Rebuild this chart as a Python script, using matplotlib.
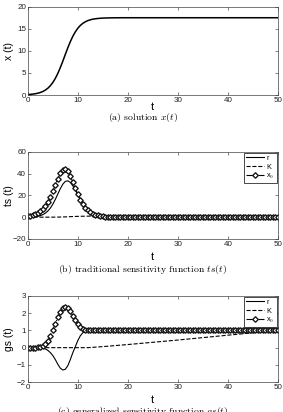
import numpy as np
import matplotlib
matplotlib.use("Agg")
import matplotlib.pyplot as plt

plt.rcParams['font.family'] = ['Liberation Sans', 'DejaVu Sans']
plt.rcParams['mathtext.fontset'] = 'cm'

# time grid for all sampled series (step 0.5, 0..50)
t = np.arange(0, 50.5, 0.5)

# (a) solution x(t), values 0..20 then plateau
x_sol = [0.10, 0.14, 0.20, 0.28, 0.40, 0.56, 0.78, 1.09, 1.51, 2.07,
         2.80, 3.72, 4.85, 6.17, 7.62, 9.15, 10.65, 12.04, 13.26, 14.28,
         15.10, 15.74, 16.22, 16.58, 16.84, 17.03, 17.17, 17.26, 17.33, 17.38,
         17.42, 17.44, 17.46, 17.47, 17.48, 17.49, 17.49, 17.50, 17.50, 17.50,
         17.50] + [17.5]*60

# (b) traditional sensitivities
ts_r = [0, 0.07, 0.20, 0.42, 0.78, 1.36, 2.25, 3.59, 5.52, 8.21,
        11.75, 16.11, 21.03, 25.96, 30.12, 32.74, 33.35, 31.93, 28.92, 24.96,
        20.70, 16.63, 13.04, 10.03, 7.62, 5.72, 4.22, 3.19, 2.35, 1.70,
        1.20, 0.88, 0.64, 0.45, 0.32, 0.23, 0.16, 0.11, 0.08, 0.06,
        0.04] + [0.0]*60
ts_K = [0, 0, 0, 0, 0, 0, 0.002, 0.004, 0.007, 0.013,
        0.025, 0.044, 0.076, 0.123, 0.188, 0.272, 0.369, 0.472, 0.573, 0.665,
        0.744, 0.808, 0.859, 0.897, 0.926, 0.947, 0.962, 0.973, 0.981, 0.987,
        0.991, 0.994, 0.996, 0.997, 0.998, 0.999, 0.999, 1, 1, 1,
        1] + [1.0]*60
ts_x0 = [1.00, 1.41, 1.99, 2.80, 3.92, 5.46, 7.54, 10.31, 13.89, 18.36,
         23.64, 29.47, 35.26, 40.16, 43.27, 43.92, 41.95, 37.77, 32.29, 26.39,
         20.79, 15.92, 11.92, 8.77, 6.38, 4.60, 3.29, 2.34, 1.67, 1.18,
         0.84, 0.59, 0.42, 0.30, 0.21, 0.15, 0.10, 0.07, 0.05, 0.04,
         0.03] + [0.0]*60

# (c) generalized sensitivities
gs_r = [0, 0, 0, 0, 0, 0, -0.02, -0.07, -0.15, -0.28,
        -0.45, -0.68, -0.95, -1.18, -1.29, -1.25, -1.05, -0.70, -0.30, 0.05,
        0.40, 0.68, 0.86, 0.95, 0.99, 1.00] + [1.0]*75
gs_x0 = [0, 0, 0, 0, 0.01, 0.03, 0.08, 0.20, 0.38, 0.65,
         1.00, 1.38, 1.75, 2.05, 2.27, 2.35, 2.28, 2.10, 1.85, 1.58,
         1.35, 1.18, 1.08, 1.03, 1.01, 1.00] + [1.0]*75
t_gsK = [0, 10, 12, 15, 20, 25, 30, 35, 40, 45, 50]
gs_K = [0, 0, 0.0, 0.06, 0.18, 0.31, 0.44, 0.58, 0.72, 0.86, 1.0]

fig = plt.figure(figsize=(2.83, 4.12), dpi=100)
W, H = 283, 412

def make_ax(left, top, right, bottom):
    return fig.add_axes([left/W, 1-bottom/H, (right-left)/W, (bottom-top)/H])

def style(ax, ylim, yticks, ylabel, xlab_y):
    ax.set_xlim(0, 50)
    ax.set_ylim(*ylim)
    ax.set_xticks([0, 10, 20, 30, 40, 50])
    ax.set_yticks(yticks)
    ax.tick_params(direction='in', top=True, right=True, labelsize=5.8,
                   length=2, width=0.4, pad=1.2, colors='#222222')
    for s in ax.spines.values():
        s.set_linewidth(0.5)
        s.set_color('#444444')
    ax.set_xlabel('t', fontsize=8, va='center')
    bb = ax.get_position()
    ax.xaxis.set_label_coords(bb.x0 + bb.width/2, 1-xlab_y/H, transform=fig.transFigure)
    ax.set_ylabel(ylabel, fontsize=7.5, va='center')
    ax.yaxis.set_label_coords(9/W, bb.y0 + bb.height/2, transform=fig.transFigure)

mk = dict(marker='D', markersize=2.8, mfc='white', mec='#111111', mew=0.95)
legkw = dict(loc='upper right', fontsize=5.2, handlelength=2.4, borderpad=0.3,
             labelspacing=0.2, handletextpad=0.4, fancybox=False,
             framealpha=1, edgecolor='k', borderaxespad=0.15)

ax1 = make_ax(27.7, 6.7, 278, 95)
ax1.plot(t, x_sol, color='k', lw=1.1)
style(ax1, (0, 20), [0, 5, 10, 15, 20], 'x (t)', 107)
fig.text(0.505, 1-118/H, r'(a) solution $x(t)$', ha='center', va='center',
         fontsize=7, family='cmr10')

ax2 = make_ax(27.7, 151.7, 278, 239)
ax2.plot(t, ts_r, color='k', lw=0.8, label='r')
ax2.plot(t, ts_K, color='k', lw=0.8, ls='--', label='K')
ax2.plot(t, ts_x0, color='k', lw=0.8, ls='-.', label=r'x$_0$', **mk)
style(ax2, (-20, 60), [-20, 0, 20, 40, 60], 'ts (t)', 257)
leg = ax2.legend(**legkw)
leg.get_frame().set_linewidth(0.5)
fig.text(0.505, 1-269/H, r'(b) traditional sensitivity function $ts(t)$',
         ha='center', va='center', fontsize=7, family='cmr10')

ax3 = make_ax(27.7, 295.7, 278, 382.3)
ax3.plot(t, gs_r, color='k', lw=0.8, label='r')
ax3.plot(t_gsK, gs_K, color='k', lw=0.8, ls='--', label='K')
ax3.plot(t, gs_x0, color='k', lw=0.8, ls='-.', label=r'x$_0$', **mk)
style(ax3, (-2, 3), [-2, -1, 0, 1, 2, 3], 'gs (t)', 400)
leg = ax3.legend(**legkw)
leg.get_frame().set_linewidth(0.5)
fig.text(0.505, 1-411/H, r'(c) generalized sensitivity function $gs(t)$',
         ha='center', va='center', fontsize=7, family='cmr10')

fig.savefig('out.png', dpi=100)
